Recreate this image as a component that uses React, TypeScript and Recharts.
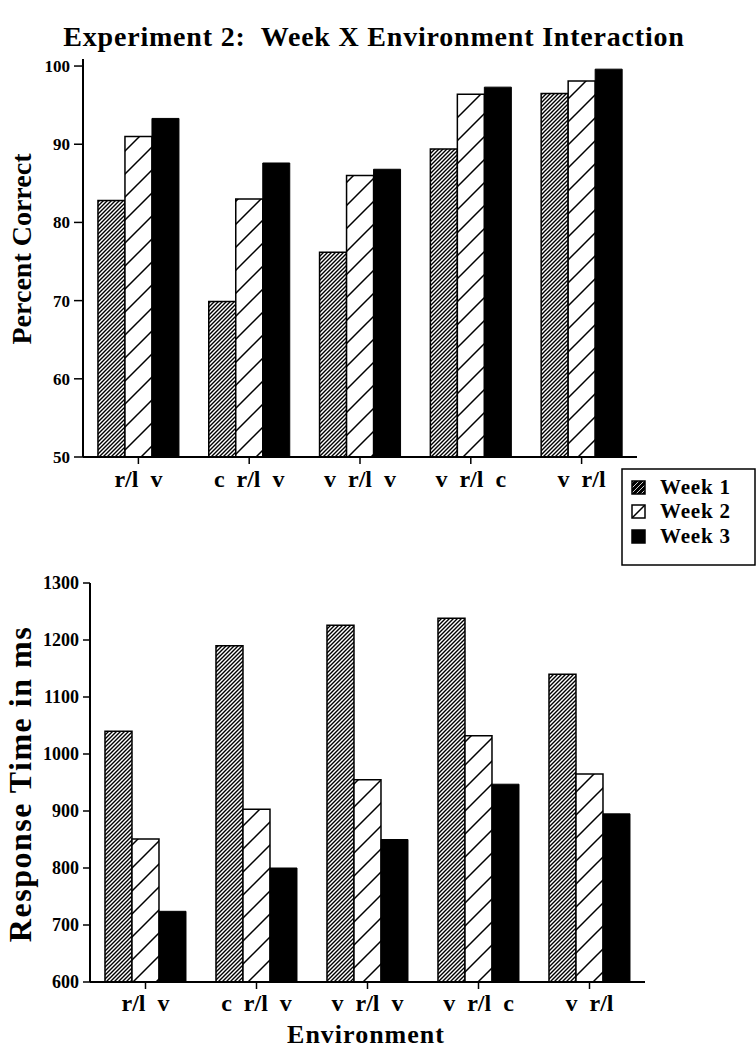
import { BarChart, Bar, XAxis, YAxis } from 'recharts';

const environments = ['r/l  v', 'c  r/l  v', 'v  r/l  v', 'v  r/l  c', 'v  r/l'];
const weeks = ['Week 1', 'Week 2', 'Week 3'];

// percent correct per week
const pcWeek1 = [82.8, 69.9, 76.2, 89.4, 96.5];
const pcWeek2 = [91.0, 83.0, 86.0, 96.4, 98.1];
const pcWeek3 = [93.3, 87.6, 86.8, 97.3, 99.6];

// response time (ms) per week
const rtWeek1 = [1040, 1190, 1226, 1238, 1140];
const rtWeek2 = [851, 903, 955, 1032, 965];
const rtWeek3 = [724, 800, 850, 947, 895];

const pcTicks = [50, 60, 70, 80, 90, 100];
const rtTicks = [600, 700, 800, 900, 1000, 1100, 1200, 1300];

const pcData = environments.map((env, i) => ({ env, w1: pcWeek1[i], w2: pcWeek2[i], w3: pcWeek3[i] }));
const rtData = environments.map((env, i) => ({ env, w1: rtWeek1[i], w2: rtWeek2[i], w3: rtWeek3[i] }));

const FONT = '"Liberation Serif", "Times New Roman", serif';

const EnvTick = ({ x, y, payload, shift }: any) => (
  <text
    x={x}
    y={y + shift}
    textAnchor="middle"
    fontFamily={FONT}
    fontWeight="bold"
    fontSize={24}
    fill="#000"
    style={{ whiteSpace: 'pre' }}
  >
    {payload.value}
  </text>
);

const axisLine = { stroke: '#000', strokeWidth: 2 };
const tickLine = { stroke: '#000', strokeWidth: 1.5 };

function Bars() {
  return [
    <Bar key="w1" dataKey="w1" fill="url(#hatchDense)" stroke="#000" strokeWidth={1.5} isAnimationActive={false} />,
    <Bar key="w2" dataKey="w2" fill="url(#hatchWide)" stroke="#000" strokeWidth={1.5} isAnimationActive={false} />,
    <Bar key="w3" dataKey="w3" fill="#000" stroke="#000" strokeWidth={1} isAnimationActive={false} />,
  ];
}

const PercentChart = () => (
  <BarChart
    width={756}
    height={520}
    data={pcData}
    margin={{ top: 59, right: 119, left: 0, bottom: 23 }}
    barCategoryGap="13.5%"
    barGap={0}
  >
    <XAxis
      dataKey="env"
      height={40}
      tickSize={7}
      tickMargin={0}
      axisLine={axisLine}
      tickLine={tickLine}
      tick={<EnvTick shift={23} />}
      interval={0}
    />
    <XAxis xAxisId="top" dataKey="env" orientation="top" height={0} tick={false} tickLine={false} axisLine={axisLine} />
    <YAxis
      width={83}
      domain={[50, 100.9]}
      ticks={pcTicks}
      tickSize={9}
      tickMargin={4}
      axisLine={axisLine}
      tickLine={tickLine}
      tick={{ fontSize: 17, fontWeight: 'bold', fill: '#000', fontFamily: FONT }}
    />
    <YAxis yAxisId="right" orientation="right" width={0} tick={false} tickLine={false} axisLine={axisLine} />
    {Bars()}
  </BarChart>
);

const TimeChart = () => (
  <BarChart
    width={756}
    height={510}
    data={rtData}
    margin={{ top: 43, right: 111, left: 0, bottom: 28 }}
    barCategoryGap="13.5%"
    barGap={0}
  >
    <XAxis
      dataKey="env"
      height={40}
      tickSize={7}
      tickMargin={0}
      axisLine={axisLine}
      tickLine={tickLine}
      tick={<EnvTick shift={22} />}
      interval={0}
    />
    <XAxis xAxisId="top" dataKey="env" orientation="top" height={0} tick={false} tickLine={false} axisLine={axisLine} />
    <YAxis
      width={90}
      domain={[600, 1300]}
      ticks={rtTicks}
      tickSize={7}
      tickMargin={4}
      axisLine={axisLine}
      tickLine={tickLine}
      tick={{ fontSize: 18, fontWeight: 'bold', fill: '#000', fontFamily: FONT }}
    />
    <YAxis yAxisId="right" orientation="right" width={0} tick={false} tickLine={false} axisLine={axisLine} />
    {Bars()}
  </BarChart>
);

const legendRows = [
  { y: 488, fill: 'url(#hatchLegend)' },
  { y: 512, fill: 'url(#hatchWide)' },
  { y: 537, fill: '#000' },
];

export default function App() {
  return (
    <div style={{ position: 'absolute', left: 0, top: 0, width: 756, height: 1050, background: '#fff' }}>
      <svg width={0} height={0} style={{ position: 'absolute' }}>
        <defs>
          <pattern id="hatchDense" patternUnits="userSpaceOnUse" width={4} height={4}>
            <rect width={4} height={4} fill="#fff" />
            <path d="M0,4 L4,0 M-1,1 L1,-1 M3,5 L5,3" stroke="#000" strokeWidth={1.4} />
          </pattern>
          <pattern id="hatchWide" patternUnits="userSpaceOnUse" width={23} height={23}>
            <rect width={23} height={23} fill="#fff" />
            <path d="M0,23 L23,0 M-2,2 L2,-2 M21,25 L25,21" stroke="#000" strokeWidth={1.5} />
          </pattern>
          <pattern id="hatchLegend" patternUnits="userSpaceOnUse" width={5} height={5}>
            <rect width={5} height={5} fill="#000" />
            <path d="M0,5 L5,0" stroke="#fff" strokeWidth={0.8} />
          </pattern>
        </defs>
      </svg>
      <div style={{ position: 'absolute', left: 0, top: 0 }}>
        <PercentChart />
      </div>
      <div style={{ position: 'absolute', left: 0, top: 540 }}>
        <TimeChart />
      </div>
      <svg width={756} height={1050} style={{ position: 'absolute', left: 0, top: 0, pointerEvents: 'none' }}>
        <g fontFamily={FONT} fontWeight="bold" fill="#000">
          <text x={374} y={46} fontSize={28} letterSpacing={0.8} textAnchor="middle" style={{ whiteSpace: 'pre' }}>
            Experiment 2:  Week X Environment Interaction
          </text>
          <text x={0} y={0} fontSize={28} textAnchor="middle" transform="translate(31,249) rotate(-90)">
            Percent Correct
          </text>
          <text x={0} y={0} fontSize={32} letterSpacing={1.5} textAnchor="middle" transform="translate(31,784) rotate(-90)">
            Response Time in ms
          </text>
          <text x={366} y={1043} fontSize={26} letterSpacing={1} textAnchor="middle">
            Environment
          </text>
          <rect x={622} y={469} width={133} height={96} fill="#fff" stroke="#000" strokeWidth={1.5} />
          {legendRows.map((r, i) => (
            <g key={weeks[i]}>
              <rect x={632} y={r.y - 7} width={13} height={13} fill={r.fill} stroke="#000" strokeWidth={1.5} />
              <text x={660} y={r.y + 6} fontSize={21} letterSpacing={0.8}>
                {weeks[i]}
              </text>
            </g>
          ))}
        </g>
      </svg>
    </div>
  );
}
